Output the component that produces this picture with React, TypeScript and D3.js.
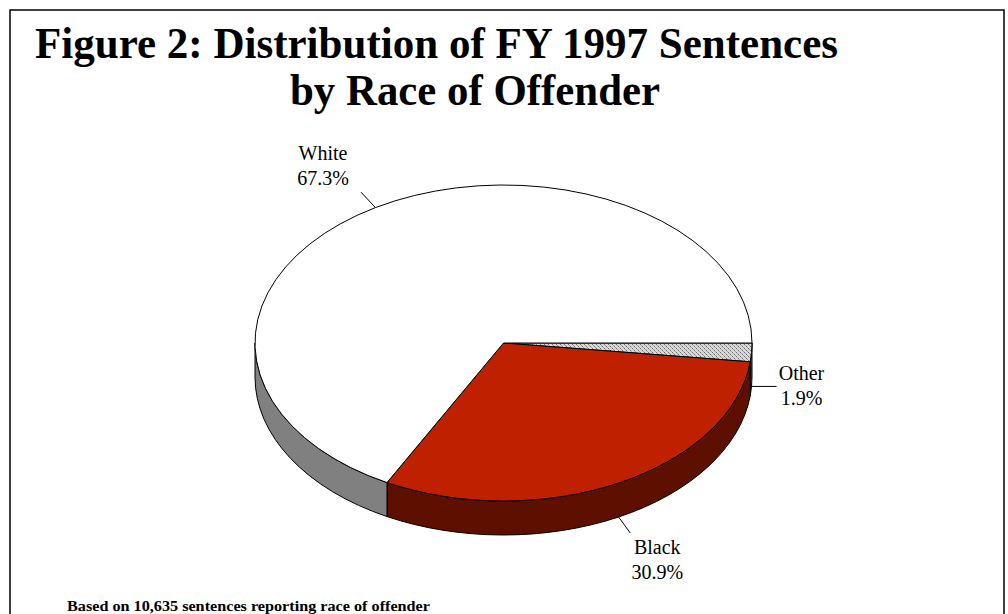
import React from "react";
import * as d3 from "d3";

const categories = ["Other", "Black", "White"];
const percents = [1.9, 30.9, 67.3];
const titleLines = ["Figure 2: Distribution of FY 1997 Sentences", "by Race of Offender"];
const footnote = "Based on 10,635 sentences reporting race of offender";

const topColors: Record<string, string> = { Other: "url(#otherPat)", Black: "#BF2000", White: "#FFFFFF" };
const sideColors: Record<string, string> = { Other: "#505050", Black: "#5E1000", White: "#808080" };
// label layout offsets relative to leader end
const labelOffset: Record<string, [number, number]> = {
  White: [-38, -32],
  Black: [27, 21],
  Other: [25, -6],
};

export default function App() {
  const W = 1008, H = 614;
  const cx = 503.5, cy = 343, rx = 248.5, ry = 158, depth = 34;
  const pie = d3.pie<number>().sort(null).startAngle(Math.PI / 2).endAngle(Math.PI / 2 + 2 * Math.PI);
  const arcs = pie(percents);
  const pt = (a: number, dy = 0, ex = 0, ey = 0): [number, number] => [
    cx + (rx + ex) * Math.sin(a),
    cy - (ry + ey) * Math.cos(a) + dy,
  ];
  const f = (p: [number, number]) => `${p[0].toFixed(2)},${p[1].toFixed(2)}`;

  const tops = arcs.map((d, i) => {
    const p0 = pt(d.startAngle), p1 = pt(d.endAngle);
    const large = d.endAngle - d.startAngle > Math.PI ? 1 : 0;
    return { key: categories[i], path: `M${cx},${cy}L${f(p0)}A${rx},${ry} 0 ${large} 1 ${f(p1)}Z` };
  });
  const sides = arcs
    .map((d, i) => {
      const s0 = Math.max(d.startAngle, Math.PI / 2);
      const s1 = Math.min(d.endAngle, (3 * Math.PI) / 2);
      if (s1 <= s0) return null;
      const path = `M${f(pt(s0))}A${rx},${ry} 0 0 1 ${f(pt(s1))}L${f(pt(s1, depth))}A${rx},${ry} 0 0 0 ${f(pt(s0, depth))}Z`;
      return { key: categories[i], path };
    })
    .filter(Boolean) as { key: string; path: string }[];

  const labels = arcs.map((d, i) => {
    const mid = (d.startAngle + d.endAngle) / 2;
    const front = -Math.cos(mid) > 0;
    const dy = front ? depth : 0;
    const p0 = pt(mid, dy);
    const p1 = pt(mid, dy, front ? 25 : 28, 18);
    if (Math.abs(Math.cos(mid)) < 0.2) p1[1] = p0[1];
    const off = labelOffset[categories[i]];
    return { key: categories[i], pct: percents[i], p0, p1, lx: p1[0] + off[0], ly: p1[1] + off[1] };
  });

  return (
    <svg width={W} height={H} style={{ position: "absolute", left: 0, top: 0, display: "block" }}>
      <defs>
        <pattern id="otherPat" width="4" height="4" patternUnits="userSpaceOnUse">
          <rect width="4" height="4" fill="#d8d8d8" />
          <rect x="0" y="0" width="1" height="1" fill="#707070" />
          <rect x="2" y="2" width="1" height="1" fill="#707070" />
          <rect x="1" y="1" width="1" height="1" fill="#a0a0a0" />
          <rect x="3" y="3" width="1" height="1" fill="#a0a0a0" />
        </pattern>
      </defs>
      <rect x={0} y={0} width={W} height={H} fill="#fff" />
      <path d={`M10,${H + 5}V10H1004V${H + 5}`} fill="none" stroke="#000" strokeWidth={1.5} />
      <text x={35} y={58} fontFamily="'Liberation Serif', 'Times New Roman', serif" fontWeight="bold" fontSize={44}
        textLength={803} lengthAdjust="spacingAndGlyphs">{titleLines[0]}</text>
      <text x={290} y={105} fontFamily="'Liberation Serif', 'Times New Roman', serif" fontWeight="bold" fontSize={44}
        textLength={370} lengthAdjust="spacingAndGlyphs">{titleLines[1]}</text>
      <g stroke="#000" strokeWidth={1} strokeLinejoin="round">
        {sides.map((s) => (
          <path key={"s" + s.key} d={s.path} fill={sideColors[s.key]} />
        ))}
        {tops.map((t) => (
          <path key={"t" + t.key} d={t.path} fill={topColors[t.key]} />
        ))}
      </g>
      <g fontFamily="'Liberation Serif', 'Times New Roman', serif" fontSize={20} fill="#000">
        {labels.map((l) => (
          <g key={"l" + l.key}>
            <line x1={l.p0[0]} y1={l.p0[1]} x2={l.p1[0]} y2={l.p1[1]} stroke="#000" strokeWidth={1} />
            <text x={l.lx} y={l.ly} textAnchor="middle">{l.key}</text>
            <text x={l.lx} y={l.ly + 25} textAnchor="middle">{`${l.pct.toFixed(1)}%`}</text>
          </g>
        ))}
      </g>
      <text x={67} y={610.5} fontFamily="'Liberation Serif', 'Times New Roman', serif" fontWeight="bold" fontSize={14}
        textLength={363} lengthAdjust="spacingAndGlyphs">{footnote}</text>
    </svg>
  );
}
